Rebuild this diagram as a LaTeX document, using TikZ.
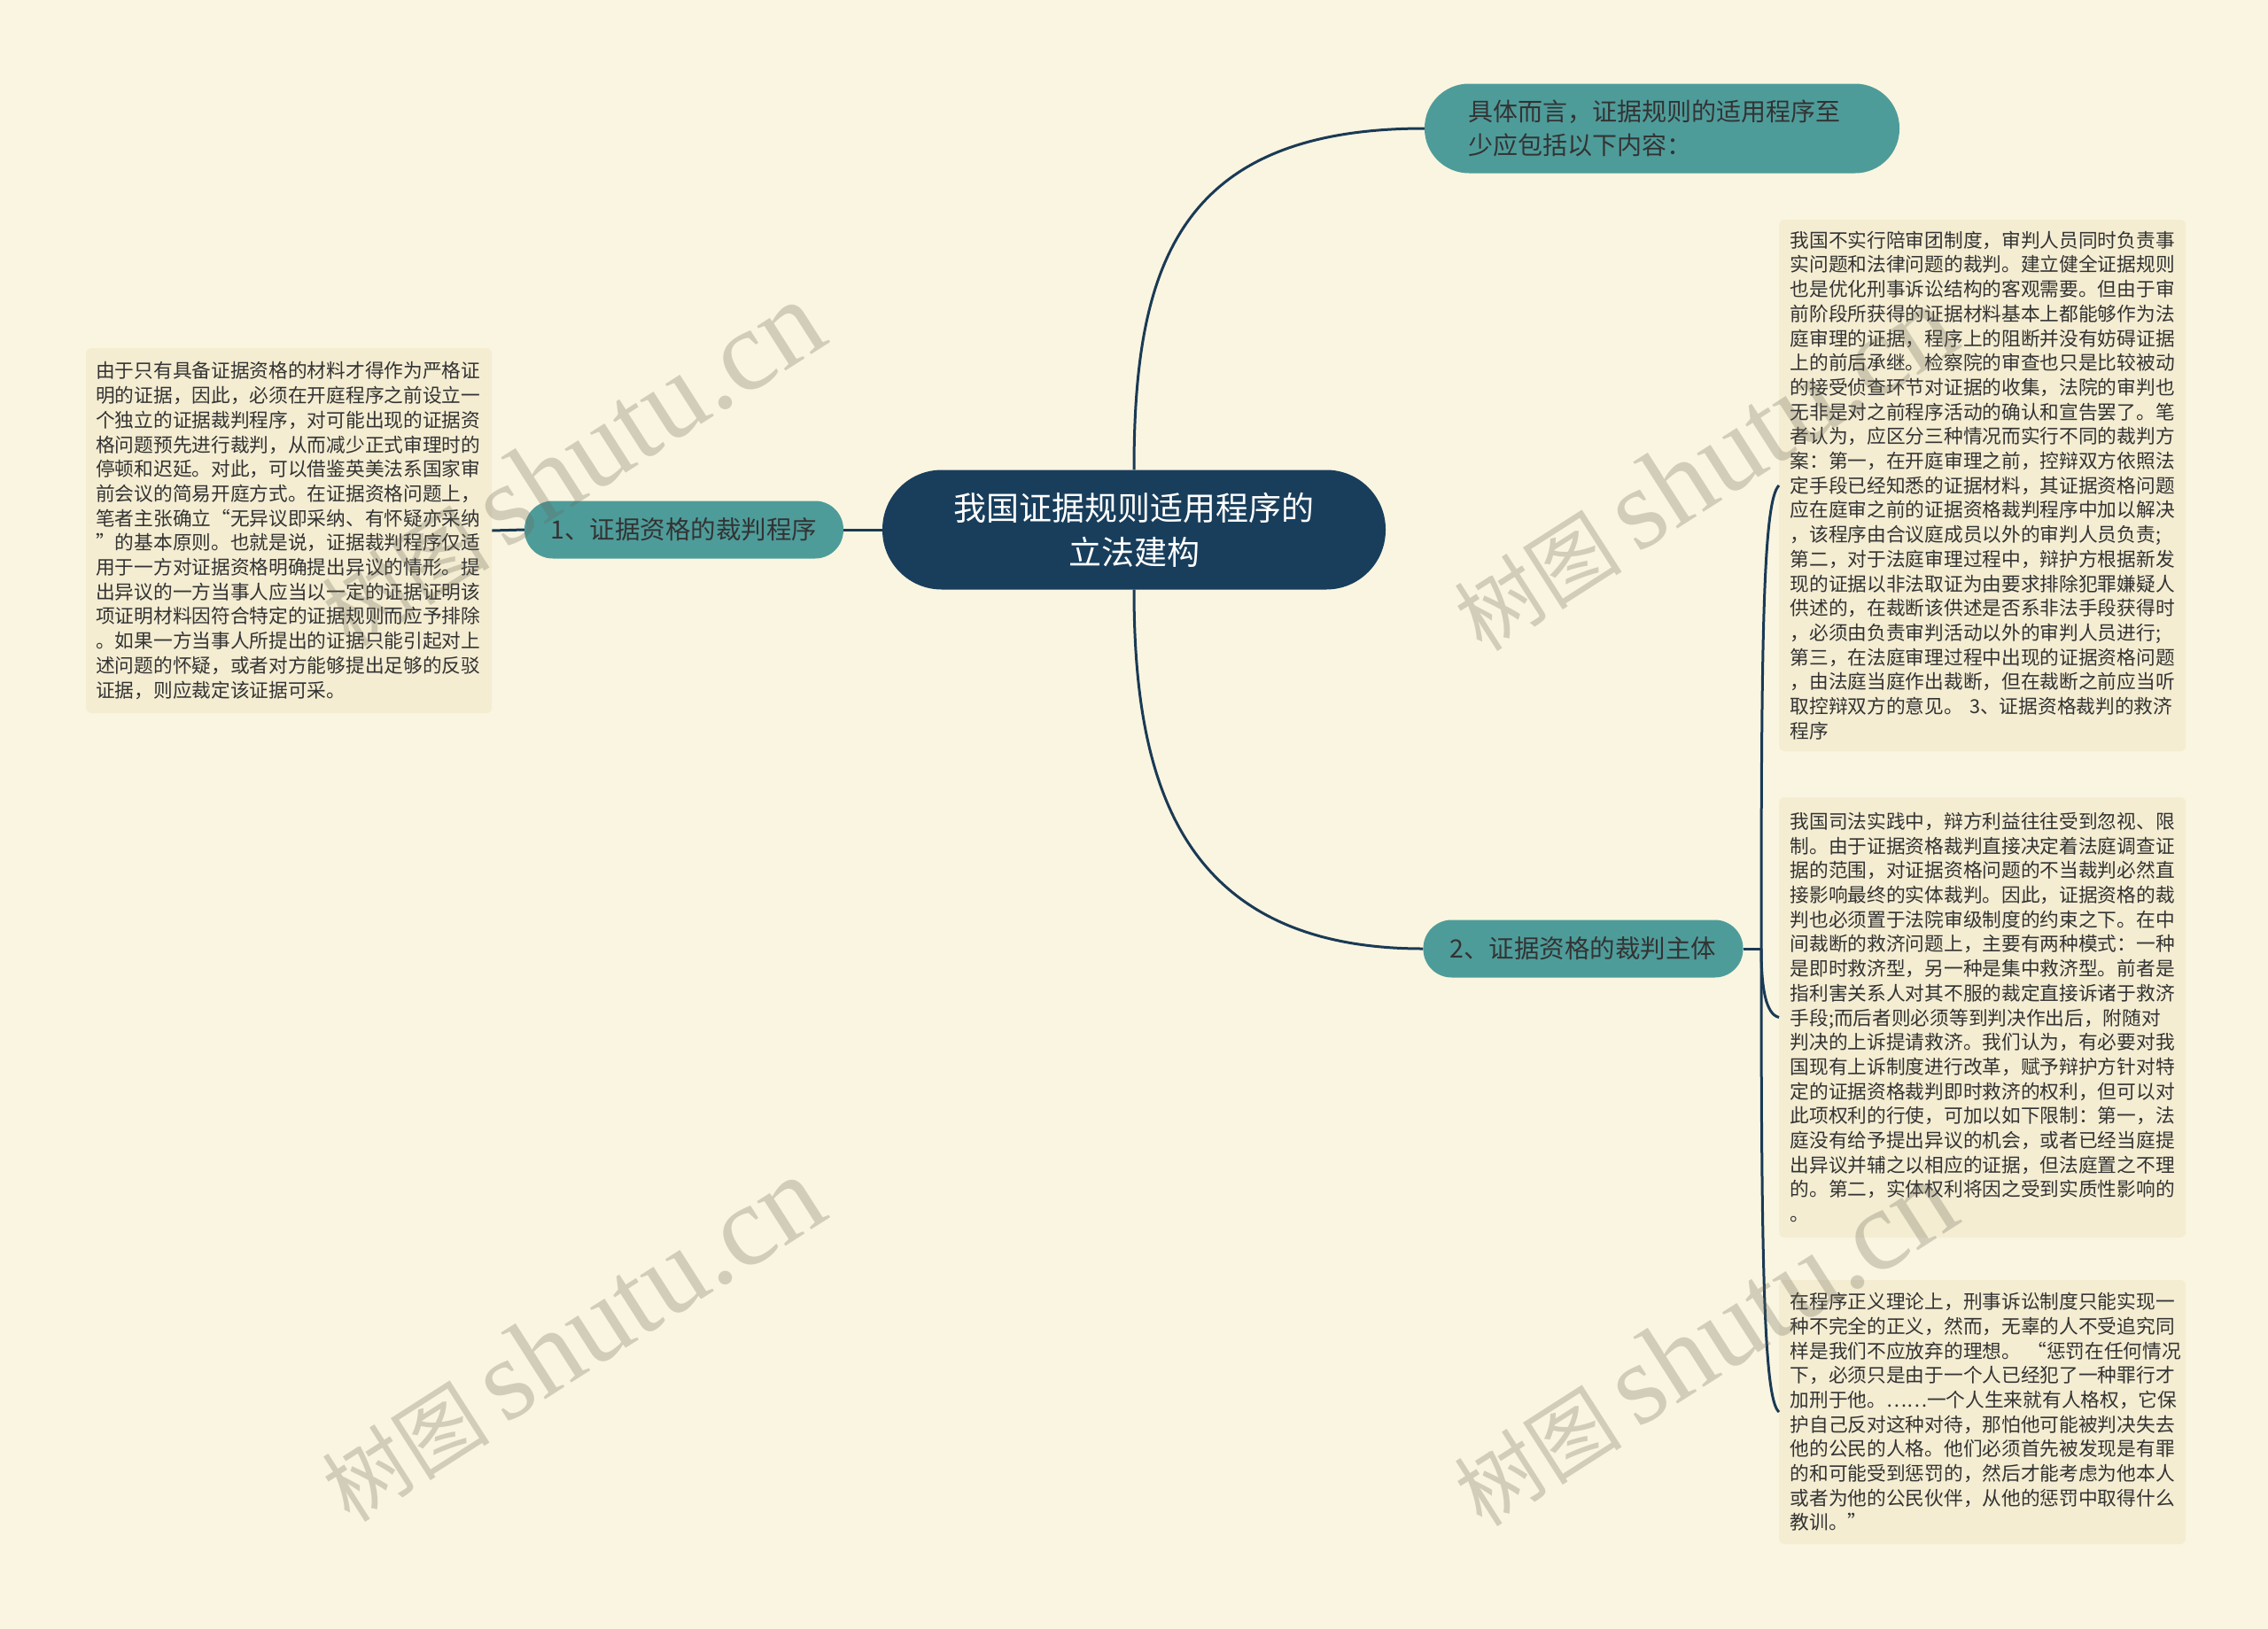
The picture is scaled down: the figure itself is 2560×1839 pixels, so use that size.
\documentclass[tikz,border=0pt]{standalone}
\usepackage{fontspec}
\setmainfont{Noto Sans CJK SC}
\newfontfamily\cjk{Noto Sans CJK SC}
\newfontfamily\wmserif{Liberation Serif}
\definecolor{bgc}{HTML}{FAF5E0}
\definecolor{boxc}{HTML}{F4EDD2}
\definecolor{navyc}{HTML}{183E5C}
\definecolor{tealc}{HTML}{4E9C9A}
\definecolor{inkc}{HTML}{333333}
\definecolor{linec}{HTML}{1A3A56}
\definecolor{wmc}{HTML}{6A6656}
\tikzset{
  conn/.style={draw=linec, line width=3pt},
  rootnode/.style={rectangle, fill=navyc, text=white, rounded corners=67pt,
    minimum width=568pt, minimum height=135pt, align=center, inner sep=0pt,
    font=\fontsize{37}{50}\selectfont},
  topicnode/.style={rectangle, fill=tealc, text=inkc, inner sep=0pt,
    font=\fontsize{28.5}{36}\selectfont},
  textbox/.style={rectangle, fill=boxc, text=inkc, rounded corners=6pt, anchor=west,
    align=left, inner ysep=0pt, font=\fontsize{21.7}{27.7}\selectfont},
  wm/.style={text=wmc, text opacity=0.28, rotate=32.6, inner sep=0pt}
}
\begin{document}
\begin{tikzpicture}[x=1pt,y=-1pt]
\fill[bgc] (0,0) rectangle (2560,1839);
\useasboundingbox (0,0) rectangle (2560,1839);

% root
\node[rootnode] (root) at (1280,598) {我国证据规则适用程序的\\立法建构};

% top node
\node[topicnode, rounded corners=50pt, minimum height=101pt, inner xsep=49pt,
  text width=438pt, align=left, font=\fontsize{28}{38}\selectfont] (top) at (1876,145)
  {具体而言，证据规则的适用程序至\\少应包括以下内容：};

% level 1 nodes
\node[topicnode, rounded corners=32pt, minimum width=360pt, minimum height=65pt] (n1) at (772,598) {1、证据资格的裁判程序};
\node[topicnode, rounded corners=32pt, minimum width=361pt, minimum height=65pt] (n2) at (1787,1071) {2、证据资格的裁判主体};

% left text box
\node[textbox, text width=436pt, inner xsep=11pt, minimum height=412pt] (lbox) at (97,599) {%
由于只有具备证据资格的材料才得作为严格证\\
明的证据，因此，必须在开庭程序之前设立一\\
个独立的证据裁判程序，对可能出现的证据资\\
格问题预先进行裁判，从而减少正式审理时的\\
停顿和迟延。对此，可以借鉴英美法系国家审\\
前会议的简易开庭方式。在证据资格问题上，\\
笔者主张确立“无异议即采纳、有怀疑亦采纳\\
”的基本原则。也就是说，证据裁判程序仅适\\
用于一方对证据资格明确提出异议的情形。提\\
出异议的一方当事人应当以一定的证据证明该\\
项证明材料因符合特定的证据规则而应予排除\\
。如果一方当事人所提出的证据只能引起对上\\
述问题的怀疑，或者对方能够提出足够的反驳\\
证据，则应裁定该证据可采。};

% right text boxes
\node[textbox, text width=434pt, inner xsep=12.5pt, minimum height=600pt] (ba) at (2008,548) {%
我国不实行陪审团制度，审判人员同时负责事\\
实问题和法律问题的裁判。建立健全证据规则\\
也是优化刑事诉讼结构的客观需要。但由于审\\
前阶段所获得的证据材料基本上都能够作为法\\
庭审理的证据，程序上的阻断并没有妨碍证据\\
上的前后承继。检察院的审查也只是比较被动\\
的接受侦查环节对证据的收集，法院的审判也\\
无非是对之前程序活动的确认和宣告罢了。笔\\
者认为，应区分三种情况而实行不同的裁判方\\
案：第一，在开庭审理之前，控辩双方依照法\\
定手段已经知悉的证据材料，其证据资格问题\\
应在庭审之前的证据资格裁判程序中加以解决\\
，该程序由合议庭成员以外的审判人员负责;\\
第二，对于法庭审理过程中，辩护方根据新发\\
现的证据以非法取证为由要求排除犯罪嫌疑人\\
供述的，在裁断该供述是否系非法手段获得时\\
，必须由负责审判活动以外的审判人员进行;\\
第三，在法庭审理过程中出现的证据资格问题\\
，由法庭当庭作出裁断，但在裁断之前应当听\\
取控辩双方的意见。~3、证据资格裁判的救济\\
程序};

\node[textbox, text width=434pt, inner xsep=12.5pt, minimum height=497pt] (bb) at (2008,1148.5) {%
我国司法实践中，辩方利益往往受到忽视、限\\
制。由于证据资格裁判直接决定着法庭调查证\\
据的范围，对证据资格问题的不当裁判必然直\\
接影响最终的实体裁判。因此，证据资格的裁\\
判也必须置于法院审级制度的约束之下。在中\\
间裁断的救济问题上，主要有两种模式：一种\\
是即时救济型，另一种是集中救济型。前者是\\
指利害关系人对其不服的裁定直接诉诸于救济\\
手段;而后者则必须等到判决作出后，附随对\\
判决的上诉提请救济。我们认为，有必要对我\\
国现有上诉制度进行改革，赋予辩护方针对特\\
定的证据资格裁判即时救济的权利，但可以对\\
此项权利的行使，可加以如下限制：第一，法\\
庭没有给予提出异议的机会，或者已经当庭提\\
出异议并辅之以相应的证据，但法庭置之不理\\
的。第二，实体权利将因之受到实质性影响的\\
。};

\node[textbox, text width=434pt, inner xsep=12.5pt, minimum height=298pt] (bc) at (2008,1594) {%
在程序正义理论上，刑事诉讼制度只能实现一\\
种不完全的正义，然而，无辜的人不受追究同\\
样是我们不应放弃的理想。~“惩罚在任何情况\\
下，必须只是由于一个人已经犯了一种罪行才\\
加刑于他。……一个人生来就有人格权，它保\\
护自己反对这种对待，那怕他可能被判决失去\\
他的公民的人格。他们必须首先被发现是有罪\\
的和可能受到惩罚的，然后才能考虑为他本人\\
或者为他的公民伙伴，从他的惩罚中取得什么\\
教训。”};

% connectors
\draw[conn] (root.north) .. controls (1280,300) and (1330,145) .. (top.west);
\draw[conn] (root.south) .. controls (1280,880) and (1330,1071) .. (n2.west);
\draw[conn] (root.west) -- (n1.east);
\draw[conn] (n1.west) -- (lbox.east);
\coordinate (br) at (1988,1071);
\draw[conn] (n2.east) -- (br);
\draw[conn] (br) .. controls (1988,720) and (1990,565) .. (ba.west);
\draw[conn] (br) .. controls (1988,1115) and (1993,1145) .. (bb.west);
\draw[conn] (br) .. controls (1988,1430) and (1991,1580) .. (bc.west);

% watermarks
\foreach \wx/\wy [count=\i] in {645/524, 1923/529, 645/1512, 1923/1517}{
  \node[wm] (wm\i) at (\wx,\wy) {{\cjk\fontsize{95}{100}\selectfont 树图}\hspace{18pt}{\wmserif\fontsize{130}{130}\selectfont shutu.cn}};
}
\end{tikzpicture}
\end{document}
